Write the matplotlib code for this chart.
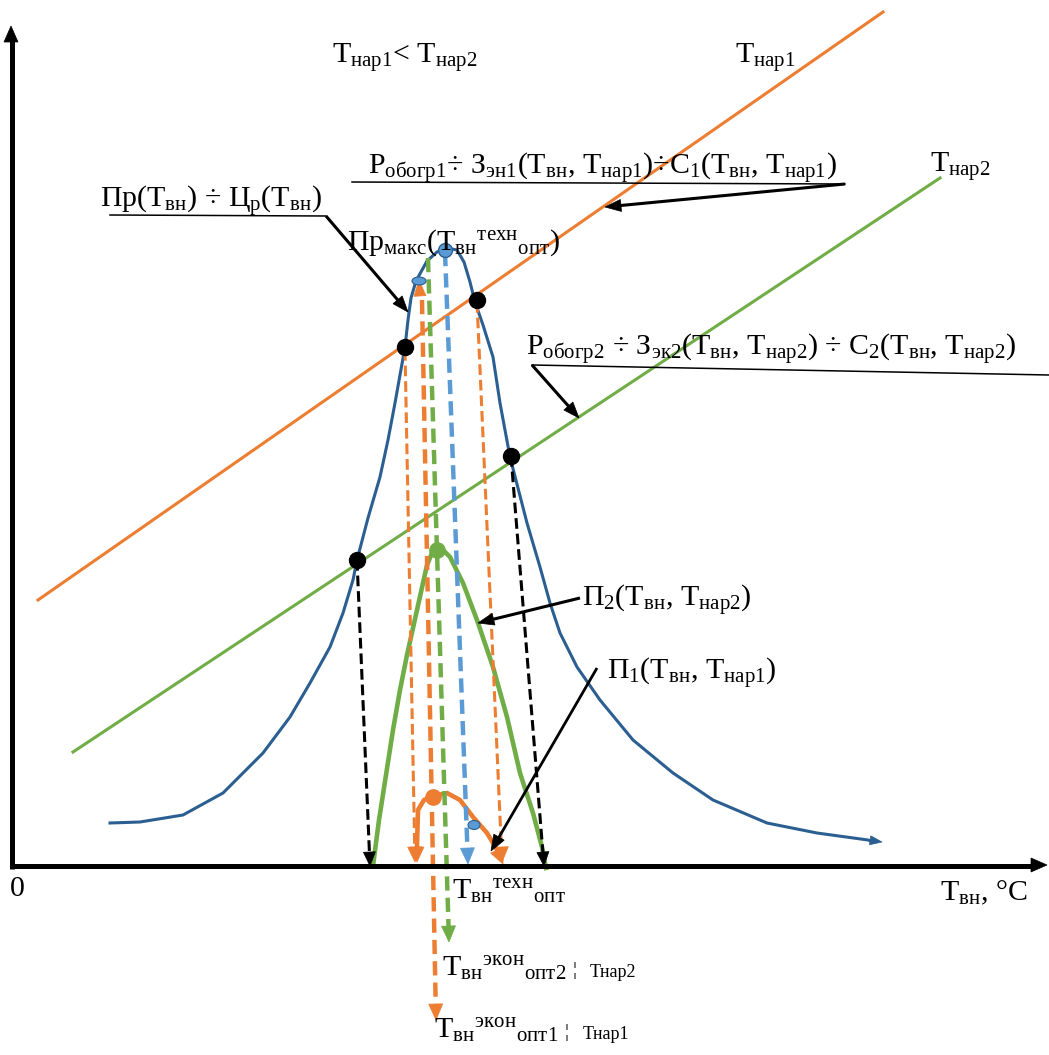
import numpy as np
import matplotlib
matplotlib.use("Agg")
import matplotlib.pyplot as plt
from matplotlib.patches import Polygon, Ellipse

plt.rcParams['font.family'] = ['Liberation Serif', 'DejaVu Serif']
plt.rcParams['mathtext.fontset'] = 'custom'
plt.rcParams['mathtext.rm'] = 'Liberation Serif'
plt.rcParams['mathtext.it'] = 'Liberation Serif:italic'
plt.rcParams['mathtext.bf'] = 'Liberation Serif:bold'

# ---------------- data (schematic, read in picture units) ----------------
# technological productivity curve Пр(Tвн)
bell_x = [110, 140, 183, 223, 263, 290, 310, 330, 343, 353, 357, 368, 380, 388, 395, 400,
          405, 408, 411, 416, 427, 437, 447, 457, 464, 470, 475, 483, 493, 500, 510, 527,
          540, 550, 560, 577, 600, 633, 673, 713, 767, 817, 868]
bell_y = [823, 822, 815, 793, 753, 717, 683, 647, 613, 580, 560, 518, 477, 440, 403, 375,
          347, 320, 298, 281, 261, 252, 248, 250, 262, 282, 302, 325, 357, 403, 457, 523,
          567, 603, 633, 667, 700, 740, 773, 800, 823, 833, 840]
bell_end = (882, 842)

# heating cost lines
line1_x = [38, 883]
line1_y = [600, 12]
line2_x = [73, 940]
line2_y = [752, 178]

# profit curve П2
p2_x = [373, 379, 386, 393, 400, 407, 417, 427, 432, 437, 443, 450, 463, 477, 493, 507,
        520, 533, 542, 546]
p2_y = [866, 820, 775, 730, 690, 655, 610, 565, 553, 548, 550, 557, 583, 620, 667, 717,
        773, 813, 847, 868]

# profit curve П1
p1_x = [417, 418, 424, 433, 447, 460, 473, 487, 496]
p1_y = [846, 810, 800, 796, 793, 800, 817, 833, 848]
p1_tips = [(417, 862), (503, 864)]

# intersection points
cross_x = [405, 477, 357, 511]
cross_y = [347, 300, 560, 456]

# dashed projection lines: (x0, y0, x1, y1)
black_proj = [(357, 560, 370, 866), (511, 456, 544, 866)]
orange_thin_proj = [(405, 350, 415, 862), (477, 302, 502, 862)]
orange_opt1 = (422, 300, 436, 1020)
orange_opt1_top = (419, 280)
green_opt2 = (428, 258, 449, 942)
blue_tech = (445, 252, 468, 864)

ORANGE = '#ED7D31'
GREEN = '#70AD47'
DBLUE = '#2B5F91'
LBLUE = '#5B9BD5'

# ---------------- figure ----------------
fig = plt.figure(figsize=(10.49, 10.55), dpi=100)
ax = fig.add_axes([0, 0, 1, 1])
ax.set_xlim(0, 1049)
ax.set_ylim(1055, 0)
ax.axis('off')


def head(tip, frm, color, L=15, W=13, z=5):
    tip = np.array(tip, float)
    frm = np.array(frm, float)
    d = tip - frm
    d /= np.hypot(*d)
    n = np.array([-d[1], d[0]])
    base = tip - d * L
    ax.add_patch(Polygon([tip, base + n * W / 2, base - n * W / 2], closed=True,
                         facecolor=color, edgecolor=color, lw=0.5, zorder=z))


def arrow_line(x0, y0, x1, y1, color, lw, ls='-', L=15, W=13, z=4):
    p0 = np.array([x0, y0], float)
    p1 = np.array([x1, y1], float)
    d = (p1 - p0) / np.hypot(*(p1 - p0))
    e = p1 - d * L * 0.8
    ax.plot([p0[0], e[0]], [p0[1], e[1]], color=color, lw=lw, ls=ls, zorder=z,
            solid_capstyle='butt', dash_capstyle='butt')
    head(p1, p0, color, L, W, z + 1)


# axes
ax.plot([12, 12], [869, 40], color='black', lw=3.6, zorder=6, solid_capstyle='butt')
head((11, 26), (11, 100), 'black', L=16, W=14, z=7)
ax.plot([10, 1032], [866, 866], color='black', lw=3.6, zorder=6, solid_capstyle='butt')
head((1047, 865), (900, 865), 'black', L=16, W=14, z=7)

# straight lines
ax.plot(line1_x, line1_y, color=ORANGE, lw=2.2, zorder=3)
ax.plot(line2_x, line2_y, color=GREEN, lw=2.2, zorder=3)

# bell curve
ax.plot(bell_x + [bell_end[0] - 8], bell_y + [bell_end[1]], color=DBLUE, lw=2.2, zorder=3,
        solid_joinstyle='round')
head(bell_end, (bell_x[-1], bell_y[-1]), DBLUE, L=12, W=9)

# profit curves
ax.plot(p2_x, p2_y, color=GREEN, lw=3.3, zorder=4, solid_joinstyle='round')
ax.plot(p1_x, p1_y, color=ORANGE, lw=3.3, zorder=4, solid_joinstyle='round')
head(p1_tips[0], (p1_x[0], p1_y[0]), ORANGE, L=15, W=14)
head(p1_tips[1], (p1_x[-1], p1_y[-1]), ORANGE, L=15, W=14)

# dashed projections
for (x0, y0, x1, y1) in black_proj:
    arrow_line(x0, y0, x1, y1, 'black', 2.2, ls=(0, (3.5, 1.6)), L=14, W=12)
for (x0, y0, x1, y1) in orange_thin_proj:
    arrow_line(x0, y0, x1, y1, ORANGE, 2.2, ls=(0, (3.5, 1.6)), L=15, W=14)
x0, y0, x1, y1 = orange_opt1
arrow_line(x0, y0, x1, y1, ORANGE, 3.2, ls=(0, (3.2, 1.6)), L=16, W=14)
head(orange_opt1_top, (x0, y0 + 30), ORANGE, L=16, W=12)
x0, y0, x1, y1 = green_opt2
arrow_line(x0, y0, x1, y1, GREEN, 3.2, ls=(0, (3.2, 1.6)), L=16, W=14)
x0, y0, x1, y1 = blue_tech
arrow_line(x0, y0, x1, y1, LBLUE, 3.2, ls=(0, (3.2, 1.6)), L=16, W=14)

# markers
ax.plot(cross_x, cross_y, 'o', color='black', ms=11.5, zorder=8)
ax.plot([437], [550], 'o', color=GREEN, ms=11, zorder=8)
ax.plot([433], [797], 'o', color=ORANGE, ms=11, zorder=8)
ax.plot([445], [250], 'o', color=LBLUE, mec=DBLUE, mew=1, ms=10, zorder=8)
ax.add_patch(Ellipse((419, 281), 14, 8, facecolor=LBLUE, edgecolor=DBLUE, lw=0.8, zorder=8))
ax.add_patch(Ellipse((474, 825), 12, 9, facecolor=LBLUE, edgecolor=DBLUE, lw=0.8, zorder=8))

# annotation arrows and underlines
ax.plot([352, 845], [182, 184], color='black', lw=1.1, zorder=5)
arrow_line(845, 184, 605, 207, 'black', 2.2, L=16, W=12)
ax.plot([110, 326], [215, 216], color='black', lw=1.1, zorder=5)
arrow_line(326, 216, 408, 312, 'black', 2.2, L=16, W=12)
ax.plot([532, 1049], [365, 375], color='black', lw=1.1, zorder=5)
arrow_line(532, 365, 579, 418, 'black', 2.2, L=16, W=12)
arrow_line(580, 598, 478, 623, 'black', 2.2, L=16, W=12)
arrow_line(597, 668, 491, 851, 'black', 2.0, L=16, W=12)

# ---------------- texts ----------------
FS = 21.5
def t(x, y, s, fs=FS, **kw):
    ax.text(x, y, s, fontsize=fs, ha='left', va='baseline', zorder=10, **kw)

t(332, 63, r"T$_{\mathrm{нар1}}$< T$_{\mathrm{нар2}}$")
t(735, 63, r"T$_{\mathrm{нар1}}$")
t(930, 172, r"T$_{\mathrm{нар2}}$")
t(368, 175, r"P$_{\mathrm{обогр1}}$÷ З$_{\mathrm{эн1}}$(T$_{\mathrm{вн}}$, T$_{\mathrm{нар1}}$)÷C$_{\mathrm{1}}$(T$_{\mathrm{вн}}$, T$_{\mathrm{нар1}}$)")
t(100, 208, r"Пр(T$_{\mathrm{вн}}$) ÷ Ц$_{\mathrm{р}}$(T$_{\mathrm{вн}}$)")
t(347, 250, r"Пр$_{\mathrm{макс}}$(T$_{\mathrm{вн}}{}^{\mathrm{техн}}{}_{\mathrm{опт}}$)")
t(526, 356, r"P$_{\mathrm{обогр2}}$ ÷ З$_{\mathrm{эк2}}$(T$_{\mathrm{вн}}$, T$_{\mathrm{нар2}}$) ÷ C$_{\mathrm{2}}$(T$_{\mathrm{вн}}$, T$_{\mathrm{нар2}}$)")
t(582, 607, r"П$_{\mathrm{2}}$(T$_{\mathrm{вн}}$, T$_{\mathrm{нар2}}$)")
t(607, 680, r"П$_{\mathrm{1}}$(T$_{\mathrm{вн}}$, T$_{\mathrm{нар1}}$)")
t(10, 896, "0")
t(940, 900, r"T$_{\mathrm{вн}}$, °C")
t(452, 900, r"T$_{\mathrm{вн}}{}^{\mathrm{техн}}{}_{\mathrm{опт}}$")
t(442, 977, r"T$_{\mathrm{вн}}{}^{\mathrm{экон}}{}_{\mathrm{опт2}}$")
t(572, 975, "¦", fs=14)
t(590, 977, "Тнар2", fs=13)
t(434, 1039, r"T$_{\mathrm{вн}}{}^{\mathrm{экон}}{}_{\mathrm{опт1}}$")
t(565, 1037, "¦", fs=14)
t(583, 1039, "Тнар1", fs=13)

fig.savefig("out.png", dpi=100)
